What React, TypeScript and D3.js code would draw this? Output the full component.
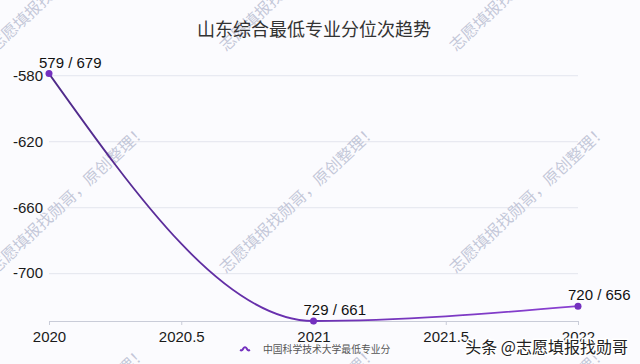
import React from "react"
import * as d3 from "d3"

const years = [2020, 2021, 2022]
const ranks = [579, 729, 720] // 最低位次
const scores = [679, 661, 656] // 最低分
const yTicks = [-580, -620, -660, -700]
const xTicks = [2020, 2020.5, 2021, 2021.5, 2022]
const title = "山东综合最低专业分位次趋势"
const seriesName = "中国科学技术大学最低专业分"
const watermark = "志愿填报找勋哥，原创整理！"
const signature = "头条 @志愿填报找勋哥"

const NUM_FONT = "'Liberation Sans', Arial, Helvetica, sans-serif"
const CJK_FONT = "'Noto Sans CJK SC', 'Noto Sans', sans-serif"

export default function App() {
  const ref = React.useRef<SVGSVGElement>(null)

  React.useEffect(() => {
    const width = 640
    const height = 364
    const margin = { top: 73.6, right: 62, bottom: 43, left: 49 }

    const svg = d3.select(ref.current)
    svg.selectAll("*").remove()
    svg.attr("width", width).attr("height", height)

    const data = years.map((y, i) => ({ year: y, rank: ranks[i], score: scores[i], v: -ranks[i] }))

    const x = d3.scaleLinear()
      .domain([2020, 2022])
      .range([margin.left, width - margin.right])

    const y = d3.scaleLinear()
      .domain([d3.min(data, d => d.v)!, d3.max(data, d => d.v)!])
      .range([height - margin.bottom, margin.top])

    svg.append("rect")
      .attr("width", width).attr("height", height)
      .attr("fill", "#fbfbfe")

    // 网格线 + y轴标签
    const yAxis = (g: any) => g
      .attr("transform", `translate(${margin.left},0)`)
      .call(d3.axisLeft(y).tickValues(yTicks).tickFormat((d: any) => String(d)).tickSize(0).tickPadding(6))
      .call((g: any) => g.select(".domain").remove())
      .call((g: any) => g.selectAll(".tick line").clone()
        .attr("stroke", "#e3e5ee")
        .attr("x2", width - margin.left - margin.right))
      .call((g: any) => g.selectAll(".tick text")
        .attr("font-family", NUM_FONT)
        .attr("font-size", 15)
        .attr("fill", "#1a1a1a"))
    svg.append("g").call(yAxis)

    // x轴
    const xAxis = (g: any) => g
      .attr("transform", `translate(0,${height - margin.bottom})`)
      .call(d3.axisBottom(x).tickValues(xTicks).tickFormat((d: any) => String(d)).tickSize(4).tickPadding(6))
      .call((g: any) => g.select(".domain").attr("stroke", "#c9ccd8"))
      .call((g: any) => g.selectAll(".tick line").attr("stroke", "#c9ccd8"))
      .call((g: any) => g.selectAll(".tick text")
        .attr("font-family", NUM_FONT)
        .attr("font-size", 15)
        .attr("fill", "#1a1a1a"))
    svg.append("g").call(xAxis)

    // 水印
    const wm = svg.append("g").attr("pointer-events", "none")
    for (let i = -1; i <= 2; i++) {
      for (let j = -1; j <= 1; j++) {
        const wx = 226 + i * 230
        const wy = 274 + j * 222
        wm.append("text")
          .attr("transform", `translate(${wx},${wy}) rotate(-43)`)
          .attr("font-family", CJK_FONT)
          .attr("font-size", 16)
          .attr("fill", "#9ea5c0")
          .attr("fill-opacity", 0.6)
          .text(watermark)
      }
    }

    // 标题
    svg.append("text")
      .attr("x", 314)
      .attr("y", 36)
      .attr("text-anchor", "middle")
      .attr("font-family", CJK_FONT)
      .attr("font-size", 18)
      .attr("fill", "#333")
      .text(title)

    const grad = svg.append("defs").append("linearGradient")
      .attr("id", "lineGrad")
      .attr("gradientUnits", "userSpaceOnUse")
      .attr("x1", x(2020)).attr("x2", x(2022))
      .attr("y1", 0).attr("y2", 0)
    grad.append("stop").attr("offset", "0%").attr("stop-color", "#4e2a88")
    grad.append("stop").attr("offset", "45%").attr("stop-color", "#6a30b0")
    grad.append("stop").attr("offset", "100%").attr("stop-color", "#8a40d2")

    const line = d3.line<any>()
      .curve(d3.curveMonotoneX)
      .x(d => x(d.year))
      .y(d => y(d.v))

    svg.append("path")
      .datum(data)
      .attr("fill", "none")
      .attr("stroke", "url(#lineGrad)")
      .attr("stroke-width", 1.8)
      .attr("d", line)

    svg.selectAll("circle.pt")
      .data(data)
      .enter()
      .append("circle")
      .attr("class", "pt")
      .attr("cx", d => x(d.year))
      .attr("cy", d => y(d.v))
      .attr("r", 3.5)
      .attr("fill", "#7430bf")

    svg.selectAll("text.lbl")
      .data(data)
      .enter()
      .append("text")
      .attr("class", "lbl")
      .attr("x", d => x(d.year) - 10)
      .attr("y", d => y(d.v) - 6)
      .attr("font-family", NUM_FONT)
      .attr("font-size", 15)
      .attr("fill", "#111")
      .text(d => `${d.rank} / ${d.score}`)

    // 图例
    const lg = svg.append("g").attr("transform", "translate(240,349)")
    const wave = d3.line<number>()
      .curve(d3.curveBasis)
      .x((d, i) => i * 2)
      .y(d => d)
    lg.append("path")
      .attr("d", wave([1, 2, -2, -2, 2, 1]))
      .attr("fill", "none")
      .attr("stroke", "#7430bf")
      .attr("stroke-width", 2)
    lg.append("text")
      .attr("x", 23)
      .attr("y", 3.5)
      .attr("font-family", CJK_FONT)
      .attr("font-size", 9.8)
      .attr("fill", "#555")
      .text(seriesName)

    // 署名
    svg.append("text")
      .attr("x", 628)
      .attr("y", 353)
      .attr("text-anchor", "end")
      .attr("font-family", CJK_FONT)
      .attr("font-size", 16)
      .attr("fill", "#222")
      .attr("stroke", "#fff")
      .attr("stroke-width", 3)
      .attr("paint-order", "stroke")
      .text(signature)
  }, [])

  return (
    <div style={{ position: "absolute", left: 0, top: 0 }}>
      <svg ref={ref} style={{ display: "block" }} />
    </div>
  )
}
